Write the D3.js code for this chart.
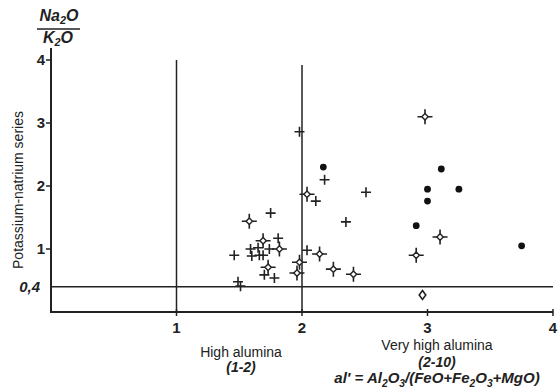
<!DOCTYPE html>
<html>
<head>
<meta charset="utf-8">
<script src="https://cdn.jsdelivr.net/npm/d3@7"></script>
<style>
  body { margin: 0; background: #fff; }
  text { font-family: "Liberation Sans", Arial, sans-serif; fill: #222; }
</style>
</head>
<body>
<script>
// values: [al', Na2O/K2O]
var plusPoints = [
  [1.98, 2.86], [2.18, 2.10], [2.51, 1.90], [2.11, 1.76], [1.75, 1.57],
  [2.35, 1.43], [1.81, 1.17], [2.04, 0.98], [1.46, 0.90], [1.59, 1.00],
  [1.60, 0.89], [1.65, 1.02], [1.66, 0.90], [1.69, 0.90], [1.74, 1.00],
  [1.70, 0.59], [1.78, 0.54], [1.49, 0.48], [1.51, 0.41]
];
var starPoints = [
  [2.04, 1.87], [1.58, 1.44], [1.69, 1.13], [1.82, 1.00], [2.14, 0.92],
  [1.73, 0.71], [1.98, 0.79], [1.96, 0.62], [2.25, 0.68], [2.41, 0.60],
  [2.98, 3.10], [3.10, 1.19], [2.91, 0.90]
];
var dotPoints = [
  [2.17, 2.30], [3.11, 2.27], [3.00, 1.95], [3.25, 1.95], [3.00, 1.76],
  [2.91, 1.37], [3.75, 1.05]
];
var diamondPoints = [[2.96, 0.27]];

var xTicks = [1, 2, 3, 4];
var yTicks = [1, 2, 3, 4];
var boundaryX = [1, 2];
var boundaryTop = [4.0, 3.92];
var seriesLimit = 0.4;

var width = 558, height = 389;

var x = d3.scaleLinear().domain([0, 4]).range([51, 553]);
var y = d3.scaleLinear().domain([0, 4]).range([312, 60]);

var svg = d3.select('body').append('svg')
  .attr('width', width)
  .attr('height', height);

var ink = '#222';

// axes
svg.append('line')
  .attr('x1', x(0)).attr('x2', x(0))
  .attr('y1', 48).attr('y2', y(0) + 1)
  .attr('stroke', ink).attr('stroke-width', 2);

svg.append('line')
  .attr('x1', x(0) - 1).attr('x2', x(4))
  .attr('y1', y(0)).attr('y2', y(0))
  .attr('stroke', ink).attr('stroke-width', 2);

svg.append('g').selectAll('line')
  .data(xTicks)
  .enter()
  .append('line')
  .attr('x1', function(d) { return x(d); })
  .attr('x2', function(d) { return x(d); })
  .attr('y1', y(0) - 3)
  .attr('y2', y(0) + 4)
  .attr('stroke', ink).attr('stroke-width', 1.5);

svg.append('g').selectAll('text')
  .data(xTicks)
  .enter()
  .append('text')
  .attr('x', function(d) { return x(d); })
  .attr('y', 333)
  .attr('text-anchor', 'middle')
  .attr('font-size', '15px')
  .attr('font-weight', 'bold')
  .text(function(d) { return d; });

svg.append('g').selectAll('line')
  .data(yTicks)
  .enter()
  .append('line')
  .attr('x1', x(0) - 5)
  .attr('x2', x(0))
  .attr('y1', function(d) { return y(d); })
  .attr('y2', function(d) { return y(d); })
  .attr('stroke', ink).attr('stroke-width', 1.5);

svg.append('g').selectAll('text')
  .data(yTicks)
  .enter()
  .append('text')
  .attr('x', x(0) - 6)
  .attr('y', function(d) { return y(d) + 5; })
  .attr('text-anchor', 'end')
  .attr('font-size', '15px')
  .attr('font-weight', 'bold')
  .text(function(d) { return d; });

// field boundaries
svg.append('g').selectAll('line')
  .data(boundaryX)
  .enter()
  .append('line')
  .attr('x1', function(d) { return x(d); })
  .attr('x2', function(d) { return x(d); })
  .attr('y1', function(d, i) { return y(boundaryTop[i]); })
  .attr('y2', y(0))
  .attr('stroke', ink).attr('stroke-width', 1.5);

svg.append('line')
  .attr('x1', x(0)).attr('x2', x(4))
  .attr('y1', y(seriesLimit)).attr('y2', y(seriesLimit))
  .attr('stroke', ink).attr('stroke-width', 1.5);

svg.append('text')
  .attr('x', 40)
  .attr('y', y(seriesLimit) + 5)
  .attr('text-anchor', 'end')
  .attr('font-size', '15px')
  .attr('font-weight', 'bold')
  .attr('font-style', 'italic')
  .text('0,4');

// text with subscripts: [string, isSub, backToBaseline]
function formula(sel, parts, shift) {
  parts.forEach(function(p) {
    var t = sel.append('tspan').text(p[0]);
    if (p[1]) {
      t.attr('font-size', '0.68em').attr('dy', shift);
    } else if (p[2]) {
      t.attr('dy', -shift);
    }
  });
}

var frac = svg.append('g')
  .attr('font-size', '16px')
  .attr('font-weight', 'bold')
  .attr('font-style', 'italic');

formula(frac.append('text')
  .attr('x', 59).attr('y', 21)
  .attr('text-anchor', 'middle'),
  [['Na'], ['2', true], ['O', false, true]], 3);

frac.append('line')
  .attr('x1', 37).attr('x2', 80)
  .attr('y1', 29).attr('y2', 29)
  .attr('stroke', ink).attr('stroke-width', 1.5);

formula(frac.append('text')
  .attr('x', 58).attr('y', 43)
  .attr('text-anchor', 'middle'),
  [['K'], ['2', true], ['O', false, true]], 3);

svg.append('text')
  .attr('transform', 'translate(23,' + 190 + ') rotate(-90)')
  .attr('text-anchor', 'middle')
  .attr('font-size', '14px')
  .attr('fill', '#333')
  .text('Potassium-natrium series');

// field labels
svg.append('text')
  .attr('x', 241).attr('y', 357)
  .attr('text-anchor', 'middle')
  .attr('font-size', '14px')
  .text('High alumina');

svg.append('text')
  .attr('x', 241).attr('y', 372)
  .attr('text-anchor', 'middle')
  .attr('font-size', '14px')
  .attr('font-weight', 'bold')
  .attr('font-style', 'italic')
  .text('(1-2)');

svg.append('text')
  .attr('x', 437).attr('y', 350)
  .attr('text-anchor', 'middle')
  .attr('font-size', '14px')
  .text('Very high alumina');

svg.append('text')
  .attr('x', 437).attr('y', 367)
  .attr('text-anchor', 'middle')
  .attr('font-size', '14px')
  .attr('font-weight', 'bold')
  .attr('font-style', 'italic')
  .text('(2-10)');

formula(svg.append('text')
  .attr('x', 437).attr('y', 383)
  .attr('text-anchor', 'middle')
  .attr('font-size', '15px')
  .attr('font-weight', 'bold')
  .attr('font-style', 'italic'),
  [["al\u2032 = Al"], ['2', true], ['O', false, true], ['3', true],
   ['/(FeO+Fe', false, true], ['2', true], ['O', false, true], ['3', true],
   ['+MgO)', false, true]], 4);

// markers
function place(d) {
  return 'translate(' + x(d[0]) + ',' + y(d[1]) + ')';
}

svg.append('g').selectAll('path')
  .data(plusPoints)
  .enter()
  .append('path')
  .attr('transform', place)
  .attr('d', 'M-5,0H5M0,-5V5')
  .attr('stroke', ink)
  .attr('stroke-width', 1.6)
  .attr('fill', 'none');

var stars = svg.append('g').selectAll('g')
  .data(starPoints)
  .enter()
  .append('g')
  .attr('transform', place);

stars.append('path')
  .attr('d', 'M-7.5,0H-3M3,0H7.5M0,-7.5V-3M0,3V7.5')
  .attr('stroke', ink)
  .attr('stroke-width', 1.6);

stars.append('path')
  .attr('d', 'M0,-3.2L3.2,0L0,3.2L-3.2,0Z')
  .attr('fill', '#fff')
  .attr('stroke', ink)
  .attr('stroke-width', 1.4);

svg.append('g').selectAll('circle')
  .data(dotPoints)
  .enter()
  .append('circle')
  .attr('cx', function(d) { return x(d[0]); })
  .attr('cy', function(d) { return y(d[1]); })
  .attr('r', 3.4)
  .attr('fill', '#111');

svg.append('g').selectAll('path')
  .data(diamondPoints)
  .enter()
  .append('path')
  .attr('transform', place)
  .attr('d', 'M0,-4.5L3.3,0L0,4.5L-3.3,0Z')
  .attr('fill', '#fff')
  .attr('stroke', ink)
  .attr('stroke-width', 1.6);
</script>
</body>
</html>
